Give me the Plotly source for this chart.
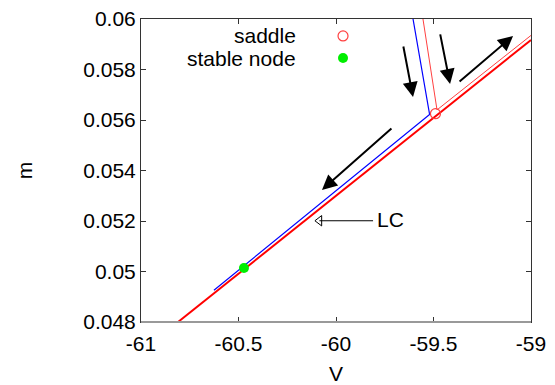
import plotly.graph_objects as go

# ---- data ----
lc_V = [-60.81, -59.90, -59.0]
lc_m = [0.0480, 0.05362, 0.05917]

blue_V = [-60.626, -59.520, -59.605]
blue_m = [0.04926, 0.05622, 0.0600]

red_thin_V = [-59.554, -59.482, -59.0]
red_thin_m = [0.0600, 0.0564, 0.05935]

saddle_V = [-59.49]
saddle_m = [0.05625]

node_V = [-60.472]
node_m = [0.05014]

# flow arrows: tail -> head
arrow_tail_V = [-59.708, -59.656, -59.467, -59.374]
arrow_tail_m = [0.05572, 0.05897, 0.05945, 0.05747]
arrow_head_V = [-60.072, -59.605, -59.415, -59.092]
arrow_head_m = [0.05323, 0.05691, 0.05743, 0.05933]

# LC label arrow
lc_arrow_V = [-59.810, -60.085]
lc_arrow_m = [0.05201, 0.05201]
lc_label_V = -59.80
lc_label_m = 0.05205

x_ticks = [-61, -60.5, -60, -59.5, -59]
x_tick_text = ["-61", "-60.5", "-60", "-59.5", "-59"]
y_ticks = [0.048, 0.05, 0.052, 0.054, 0.056, 0.058, 0.06]
y_tick_text = ["0.048", "0.05", "0.052", "0.054", "0.056", "0.058", "0.06"]

FONT = "Liberation Sans, Arial, sans-serif"

fig = go.Figure()
fig.add_trace(go.Scatter(x=blue_V, y=blue_m, mode="lines",
                         line=dict(color="#0000ff", width=1.2), hoverinfo="skip"))
fig.add_trace(go.Scatter(x=red_thin_V, y=red_thin_m, mode="lines",
                         line=dict(color="#ff4040", width=1), hoverinfo="skip"))
fig.add_trace(go.Scatter(x=lc_V, y=lc_m, mode="lines",
                         line=dict(color="#ff0000", width=2), hoverinfo="skip"))
fig.add_trace(go.Scatter(x=saddle_V, y=saddle_m, mode="markers",
                         marker=dict(symbol="circle-open", size=10, color="#ff4040",
                                     line=dict(width=1.2)), hoverinfo="skip"))
fig.add_trace(go.Scatter(x=node_V, y=node_m, mode="markers",
                         marker=dict(symbol="circle", size=10, color="#00ee00"), hoverinfo="skip"))
fig.add_trace(go.Scatter(x=lc_arrow_V, y=lc_arrow_m, mode="lines",
                         line=dict(color="black", width=1), hoverinfo="skip"))
fig.add_trace(go.Scatter(x=[lc_arrow_V[1]], y=[lc_arrow_m[1]], mode="markers",
                         marker=dict(symbol="triangle-left-open", size=9, color="black",
                                     line=dict(width=1)), hoverinfo="skip"))

for tv, tm, hv, hm in zip(arrow_tail_V, arrow_tail_m, arrow_head_V, arrow_head_m):
    fig.add_annotation(x=hv, y=hm, ax=tv, ay=tm, xref="x", yref="y", axref="x", ayref="y",
                       text="", showarrow=True, arrowhead=2, arrowsize=1.5,
                       arrowwidth=2, arrowcolor="black", standoff=0, startstandoff=0)

fig.add_annotation(x=lc_label_V, y=lc_label_m, xref="x", yref="y", text="LC",
                   showarrow=False, xanchor="left", yanchor="middle",
                   font=dict(family=FONT, size=21, color="black"))

# legend (text left of symbol, as in the reference)
fig.add_annotation(x=0.4026, y=0.944, xref="paper", yref="paper", text="saddle",
                   showarrow=False, xanchor="right", yanchor="middle",
                   font=dict(family=FONT, size=21, color="black"))
fig.add_annotation(x=0.4026, y=0.871, xref="paper", yref="paper", text="stable node",
                   showarrow=False, xanchor="right", yanchor="middle",
                   font=dict(family=FONT, size=21, color="black"))
r = 5 / 390
ry = 5 / 303
fig.add_shape(type="circle", xref="paper", yref="paper",
              x0=0.518 - r, x1=0.518 + r, y0=0.944 - ry, y1=0.944 + ry,
              line=dict(color="#ff4040", width=1.2))
fig.add_shape(type="circle", xref="paper", yref="paper",
              x0=0.518 - r, x1=0.518 + r, y0=0.871 - ry, y1=0.871 + ry,
              line=dict(color="#00ee00", width=0), fillcolor="#00ee00")

# gray bottom border
fig.add_shape(type="line", xref="paper", yref="paper", x0=0, x1=1, y0=0, y1=0,
              line=dict(color="#999999", width=2))

fig.update_layout(
    width=555, height=385,
    margin=dict(l=141, r=24, t=19, b=63, autoexpand=False),
    paper_bgcolor="white", plot_bgcolor="white",
    showlegend=False,
    font=dict(family=FONT, size=21, color="black"),
    xaxis=dict(range=[-61, -59], tickvals=x_ticks, ticktext=x_tick_text,
               showgrid=False, zeroline=False, showline=True, linecolor="#333333",
               linewidth=1, mirror="ticks", ticks="inside", ticklen=5,
               tickcolor="#333333", tickfont=dict(size=21), ticklabelstandoff=3,
               title=dict(text="V", font=dict(size=21), standoff=12)),
    yaxis=dict(range=[0.048, 0.06], tickvals=y_ticks, ticktext=y_tick_text,
               showgrid=False, zeroline=False, showline=True, linecolor="#333333",
               linewidth=1, mirror="ticks", ticks="inside", ticklen=5,
               tickcolor="#333333", tickfont=dict(size=21),
               title=dict(text="m", font=dict(size=21), standoff=44)),
)

fig.write_html("out.html")
